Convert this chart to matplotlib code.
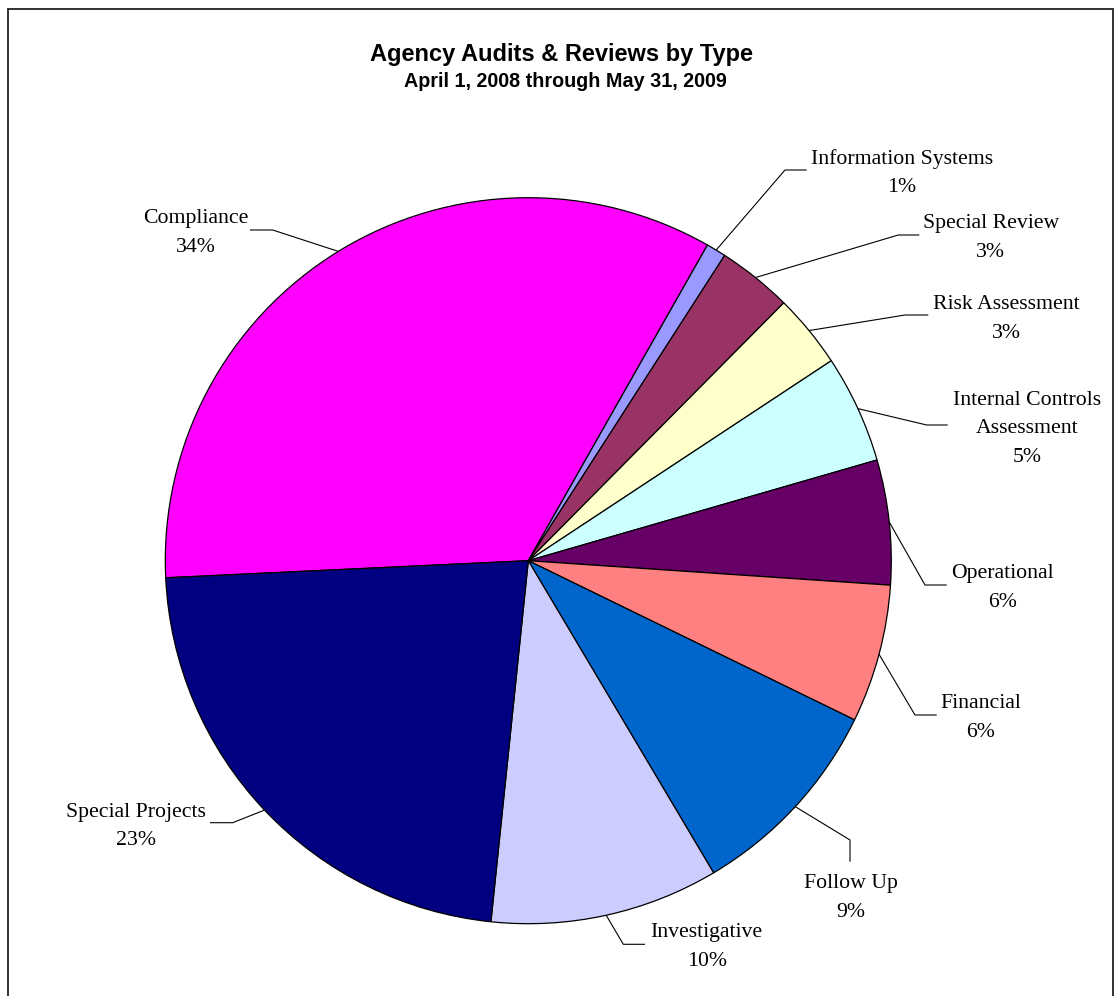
import numpy as np
import matplotlib
matplotlib.use("Agg")
import matplotlib.pyplot as plt
from matplotlib.patches import Rectangle

# ---- data (clockwise from the left, starting with Compliance) ----
categories = ["Compliance", "Information Systems", "Special Review", "Risk Assessment",
              "Internal Controls\nAssessment", "Operational", "Financial", "Follow Up",
              "Investigative", "Special Projects"]
shares = [33.97, 0.88, 3.33, 3.29, 4.81, 5.55, 6.15, 9.25, 10.17, 22.61]
colors = ["#FF00FF", "#9999FF", "#993366", "#FFFFCC", "#CCFFFF",
          "#660066", "#FF8080", "#0066CC", "#CCCCFF", "#000080"]

title = "Agency Audits & Reviews by Type"
subtitle = "April 1, 2008 through May 31, 2009"

# ---- layout (pixel coordinates, y downward) ----
W, H = 1114, 996
CX, CY, R = 528.3, 560.7, 363
START = 182.7

# label block: (x center, baseline of first line), elbow point, end point
label_layout = [
    ((195.7, 223.3), (272.7, 230), (250, 230)),
    ((901.7, 164.0), (785, 170), (806.7, 170)),
    ((990.8, 228.3), (898.3, 235), (919.3, 235)),
    ((1006.7, 309.3), (905, 315), (928.3, 315)),
    ((1026.7, 405.0), (926.7, 425), (947.7, 425)),
    ((1002.3, 578.3), (925, 585), (946.7, 585)),
    ((980.3, 708.3), (915, 715), (936.7, 715)),
    ((850.8, 888.3), (850, 840), (850, 861.7)),
    ((706.7, 937.3), (623.3, 944.3), (645, 944.3)),
    ((136.3, 816.7), (232.7, 822.7), (210, 822.7)),
]
LINE_STEP = 28.4


def P(x, y):
    return x, H - y


fig = plt.figure(figsize=(W / 100, H / 100), dpi=100)
ax = fig.add_axes([0, 0, 1, 1])

wedges, _ = ax.pie(shares, colors=colors, startangle=START, counterclock=False,
                   center=P(CX, CY), radius=R,
                   wedgeprops=dict(edgecolor="black", linewidth=0.9))

ax.set_xlim(0, W)
ax.set_ylim(0, H)
ax.set_aspect("auto")
ax.axis("off")

total = sum(shares)
serif = ["Liberation Serif", "DejaVu Serif"]
for w, name, val, (txt, elbow, end) in zip(wedges, categories, shares, label_layout):
    mid = np.deg2rad((w.theta1 + w.theta2) / 2)
    cx, cy = w.center
    rx, ry = cx + w.r * np.cos(mid), cy + w.r * np.sin(mid)
    ex, ey = P(*elbow)
    nx, ny = P(*end)
    ax.plot([rx, ex, nx], [ry, ey, ny], color="black", lw=0.8, solid_capstyle="butt")
    lines = name.split("\n") + [f"{round(val / total * 100)}%"]
    tx, ty = txt
    for i, line in enumerate(lines):
        ax.text(*P(tx, ty + i * LINE_STEP), line, ha="center", va="baseline",
                fontsize=15.7, family=serif, color="black")

ax.text(*P(561.5, 61.0), title, ha="center", va="baseline", fontsize=17,
        fontweight="bold", family=["Liberation Sans", "DejaVu Sans"])
ax.text(*P(565, 87.3), subtitle, ha="center", va="baseline", fontsize=14.2,
        fontweight="bold", family=["Liberation Sans", "DejaVu Sans"])

# chart-area frame (cut off at right and bottom in the reference)
ax.add_patch(Rectangle(P(8, 1010), 1105, 1001, fill=False, edgecolor="#222222",
                       lw=1.3, clip_on=False))

fig.savefig("out.png", dpi=100, facecolor="white")
